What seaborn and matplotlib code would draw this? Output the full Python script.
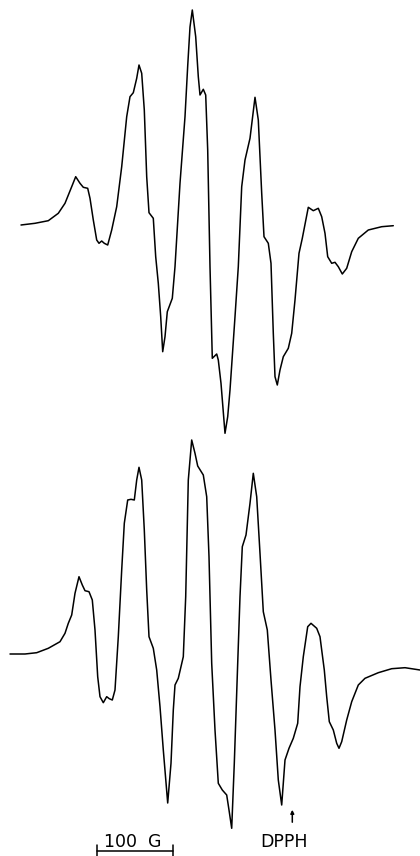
import matplotlib
matplotlib.use("Agg")
import matplotlib.pyplot as plt
import seaborn as sns
import pandas as pd

# Upper spectrum: field position (read, px scale) and signal (read, px scale, downward positive)
top_field = [21, 35, 48.3, 58.3, 65, 71.7, 75.7, 80, 83.3, 87.7, 90, 93.3, 96.7, 99, 101.7,
             104.3, 107.7, 111.7, 116.7, 121.7, 126.7, 130, 133.3, 136.7, 139, 141.7, 144.3,
             146.7, 149, 153.3, 155.7, 158.3, 160.7, 162.7, 165, 167.3, 172.3, 175, 180, 185,
             187.7, 190, 192.3, 195.7, 198.3, 200, 203.3, 205.7, 207.7, 210, 212.3, 216.7,
             218.3, 221, 225, 227.7, 230, 235, 238.3, 241.7, 245, 250, 255, 258.3, 261.7, 264,
             268.3, 271, 273.3, 275, 277.3, 280, 283.3, 288.3, 291.7, 295, 299, 302.3, 308.3,
             313.3, 318.3, 321.7, 325, 327.7, 331.7, 335, 338.3, 342.3, 346.7, 351.7, 358.3,
             368.3, 381.7, 393.3]
top_signal = [225, 223.3, 220.7, 213.3, 203.3, 186.7, 176.7, 183.3, 187.3, 188.3, 198.3, 220,
              240, 243.3, 241, 243.3, 245, 230, 206.7, 166.7, 116.7, 96.7, 92.7, 78.3, 65, 73.3,
              110, 176.7, 212.7, 218.3, 256.7, 283.3, 316.7, 351.7, 336.7, 311.7, 298.3, 266.7,
              183.3, 116.7, 66, 27, 10, 36.7, 76.7, 95, 89.3, 95, 150, 266.7, 358.3, 354, 360,
              383.3, 433.3, 416.7, 390, 316.7, 266.7, 186.7, 160, 138.3, 97.3, 120, 193.3, 236.7,
              243.3, 263.3, 333.3, 376.7, 385, 370, 356.7, 348.3, 333.3, 300, 253.3, 238.3, 207.3,
              210.7, 208.3, 216.7, 233.3, 256.7, 263.3, 262.3, 266.7, 274, 268.3, 251.7, 238.3,
              230, 226.7, 225.7]

# Lower spectrum
bot_field = [10, 25, 36.7, 48.3, 60, 65, 68.3, 71.7, 75, 79, 82.3, 85, 89, 92.3, 95, 97.7, 100,
             103.3, 106.7, 109.3, 112.3, 115, 118.3, 121.7, 124.3, 127.7, 131, 134.3, 136.7, 139,
             141.7, 144.3, 146.7, 149, 153.3, 156.7, 160, 163.3, 167.7, 171, 173.3, 175, 178.3,
             183.3, 185.7, 188.3, 191.7, 195, 197.7, 203.3, 206.7, 209, 211.7, 215, 218.3, 222.3,
             226.7, 229, 231.7, 234.3, 237.7, 240, 242.3, 246, 250, 253.3, 256.7, 260, 263.3,
             267.3, 271, 275, 278.3, 281.7, 285, 289, 293.3, 297.7, 300, 303.3, 307.7, 311,
             316.7, 320, 321.7, 324.3, 326.7, 329.3, 333.3, 336.7, 339, 341.7, 346.7, 351.7,
             358.3, 365, 378.3, 391.7, 405, 420]
bot_signal = [654, 654, 652.7, 648.3, 641.7, 633.3, 623.3, 615, 593.3, 576.7, 585, 590.7, 591.7,
              600, 630, 676.7, 696.7, 702.7, 696.7, 698.7, 700, 690, 636.7, 570, 523.3, 500,
              499.3, 500, 480, 467.3, 480, 530, 590, 636.7, 648.3, 670, 706.7, 750, 803, 763.3,
              710, 685, 678.3, 656.7, 596.7, 480, 440, 453.3, 466, 475, 496.7, 556.7, 663.3, 730,
              783.3, 790, 795, 810, 828.3, 763.3, 663.3, 596.7, 546.7, 535, 503.3, 473.3, 496.7,
              553.3, 611.7, 630, 680, 730, 780, 805, 760, 748.3, 738.3, 723.3, 686.7, 656.7,
              626.7, 623.3, 628.3, 636.7, 650, 670, 696.7, 721.7, 730, 743.3, 748.3, 741.7, 720,
              701.7, 685, 678.3, 672.7, 668.7, 667.7, 670]

scale_label = "100  G"
marker_label = "DPPH"
scale_start, scale_end = 96.7, 173.3
dpph_field = 292.3

sns.set_theme(style="white")
plt.rcParams['font.family'] = ['DejaVu Sans']

fig = plt.figure(figsize=(4.2, 8.56), dpi=100)
ax = fig.add_axes([0, 0, 1, 1])

df_top = pd.DataFrame({"field": top_field, "signal": top_signal})
df_bot = pd.DataFrame({"field": bot_field, "signal": bot_signal})
sns.lineplot(data=df_top, x="field", y="signal", sort=False, estimator=None,
             color="black", lw=1.1, ax=ax)
sns.lineplot(data=df_bot, x="field", y="signal", sort=False, estimator=None,
             color="black", lw=1.1, ax=ax)

ax.set_xlim(0, 420)
ax.set_ylim(856, 0)
ax.axis("off")

# scale bar
ax.plot([scale_start, scale_end], [851, 851], color="black", lw=1.1)
ax.plot([scale_start, scale_start], [845, 856], color="black", lw=1.1)
ax.plot([scale_end, scale_end], [845, 856], color="black", lw=1.1)
ax.text(104, 847, scale_label, fontsize=12.5, ha="left",
        va="baseline", color="black")

# DPPH marker
ax.annotate("", xy=(dpph_field, 807), xytext=(dpph_field, 825),
            arrowprops=dict(arrowstyle="-|>", color="black", lw=1.1, mutation_scale=5))
ax.text(283.5, 847, marker_label, fontsize=12.5, ha="center",
        va="baseline", color="black")

fig.savefig("out.png", dpi=100)
